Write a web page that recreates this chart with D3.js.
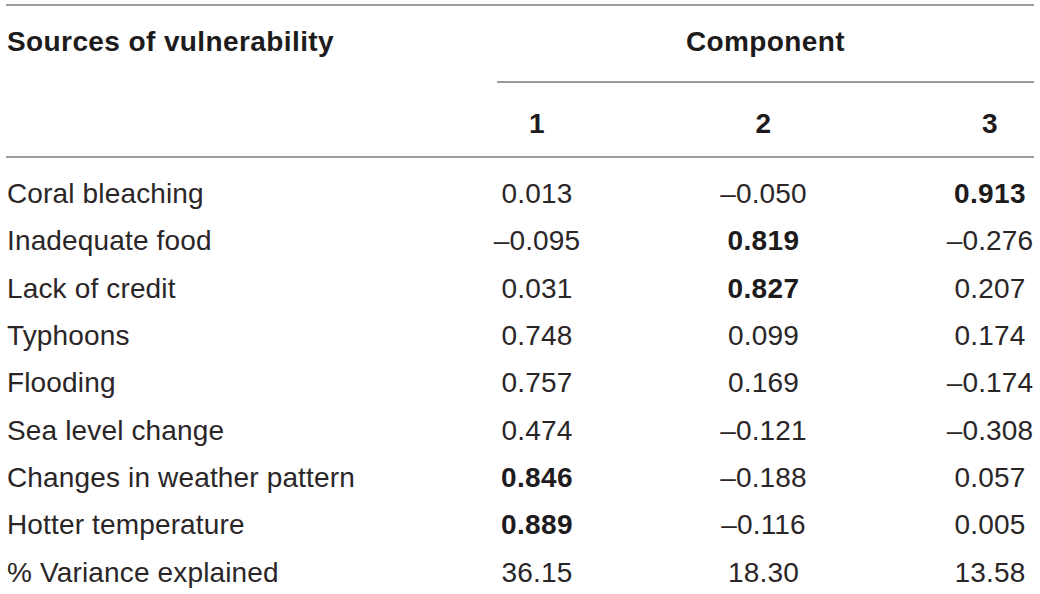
<!DOCTYPE html>
<html>
<head>
<meta charset="utf-8">
<script src="https://cdn.jsdelivr.net/npm/d3@7"></script>
<style>
  html, body { margin: 0; padding: 0; background: #fff; }
  svg { display: block; }
  text { font-family: "Liberation Sans", Arial, Helvetica, sans-serif; font-size: 28px; fill: #2a2627; letter-spacing: 0.15px; }
  .bold { font-weight: bold; fill: #1e1b1c; letter-spacing: 0.4px; }
</style>
</head>
<body>
<div id="root"></div>
<script>
const width = 1040;
const height = 594;

// table content
const sources = [
	"Coral bleaching",
	"Inadequate food",
	"Lack of credit",
	"Typhoons",
	"Flooding",
	"Sea level change",
	"Changes in weather pattern",
	"Hotter temperature"
];
const components = ["1", "2", "3"];
const comp1 = [0.013, -0.095, 0.031, 0.748, 0.757, 0.474, 0.846, 0.889];
const comp2 = [-0.050, 0.819, 0.827, 0.099, 0.169, -0.121, -0.188, -0.116];
const comp3 = [0.913, -0.276, 0.207, 0.174, -0.174, -0.308, 0.057, 0.005];
const varianceLabel = "% Variance explained";
const variance = [36.15, 18.30, 13.58];

// loadings above this are printed bold
const boldCut = 0.8;

const fmtLoading = v => (v < 0 ? "\u2013" : "") + d3.format(".3f")(Math.abs(v));
const fmtVariance = d3.format(".2f");

const svg = d3.select("#root")
	.append("svg")
		.attr("width", width)
		.attr("height", height);

// scales: column centres and row baselines
const x = d3.scaleLinear()
	.domain([0, components.length - 1])
	.range([537, 990]);

const rowCount = sources.length + 1;
const y = d3.scaleLinear()
	.domain([0, rowCount - 1])
	.range([203, 581.7]);

const labelX = 7;
const lineLeft = 6;
const lineRight = 1034;

// rules
const rules = [
	{ x1: lineLeft, x2: lineRight, y: 5 },
	{ x1: 497, x2: lineRight, y: 82 },
	{ x1: lineLeft, x2: lineRight, y: 157 }
];
svg.selectAll(".rule")
	.data(rules).enter()
	.append("line")
		.attr("class", "rule")
		.attr("x1", d => d.x1)
		.attr("x2", d => d.x2)
		.attr("y1", d => d.y)
		.attr("y2", d => d.y)
		.style("stroke", "#7a7a7a")
		.style("stroke-width", 1.5);

// header
svg.append("text")
	.attr("class", "bold")
	.attr("x", labelX)
	.attr("y", 51)
	.text("Sources of vulnerability");

svg.append("text")
	.attr("class", "bold")
	.attr("x", (497 + lineRight) / 2)
	.attr("y", 51)
	.style("text-anchor", "middle")
	.text("Component");

svg.selectAll(".comp-head")
	.data(components).enter()
	.append("text")
		.attr("class", "comp-head bold")
		.attr("x", (d, i) => x(i))
		.attr("y", 133)
		.style("text-anchor", "middle")
		.text(d => d);

// body rows
const rows = sources.map((s, i) => ({
	label: s,
	values: [comp1[i], comp2[i], comp3[i]].map(v => ({ text: fmtLoading(v), bold: Math.abs(v) > boldCut }))
}));
rows.push({
	label: varianceLabel,
	values: variance.map(v => ({ text: fmtVariance(v), bold: false }))
});

const row = svg.selectAll(".row")
	.data(rows).enter()
	.append("g")
		.attr("class", "row")
		.attr("transform", (d, i) => `translate(0, ${y(i)})`);

row.append("text")
	.attr("x", labelX)
	.text(d => d.label);

row.selectAll(".cell")
	.data(d => d.values).enter()
	.append("text")
		.attr("class", d => d.bold ? "cell bold" : "cell")
		.attr("x", (d, i) => x(i))
		.style("text-anchor", "middle")
		.text(d => d.text);
</script>
</body>
</html>
